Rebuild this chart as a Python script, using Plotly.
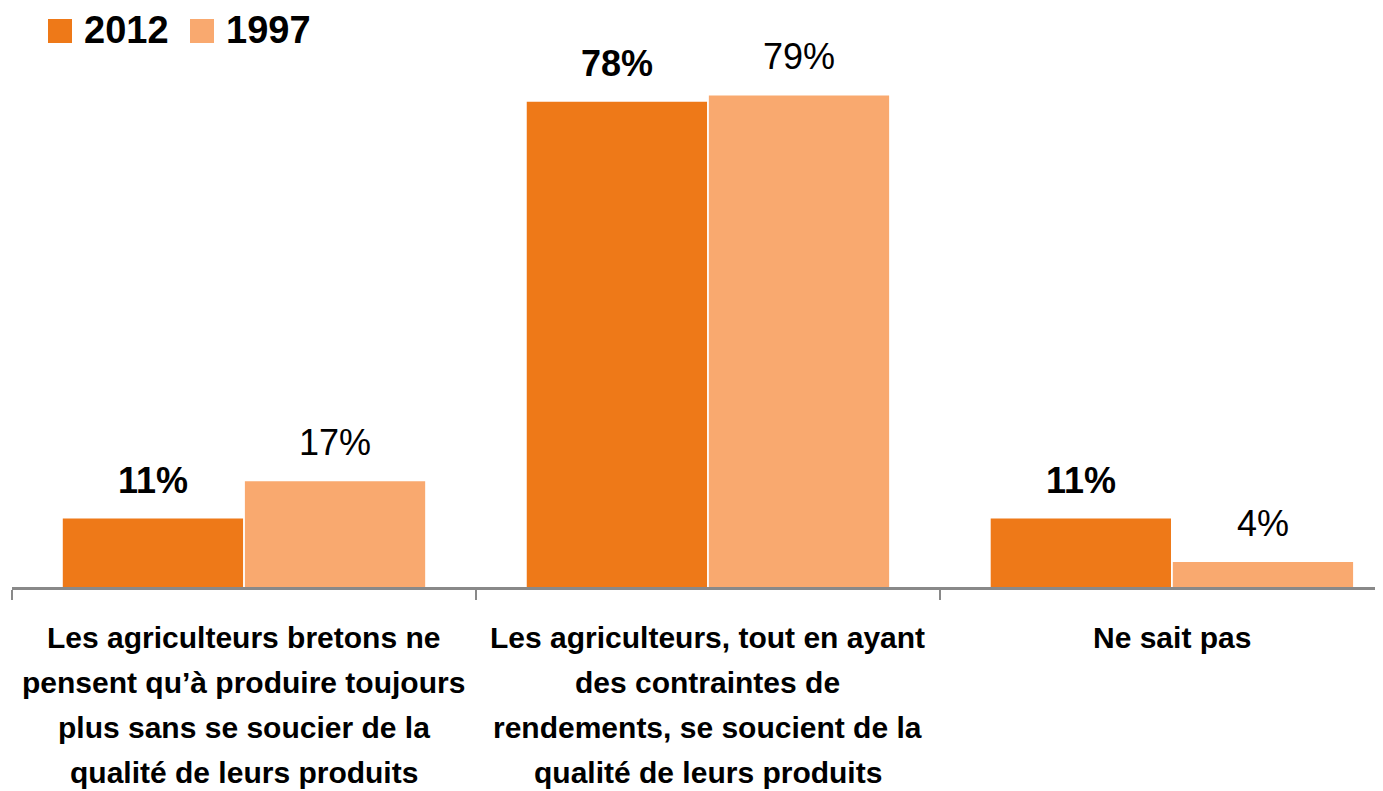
import plotly.graph_objects as go

categories = ["cat1", "cat2", "cat3"]
category_lines = [
    ["Les agriculteurs bretons ne", "pensent qu\u2019\u00e0 produire toujours", "plus sans se soucier de la", "qualit\u00e9 de leurs produits"],
    ["Les agriculteurs, tout en ayant", "des contraintes de", "rendements, se soucient de la", "qualit\u00e9 de leurs produits"],
    ["Ne sait pas"],
]
series_names = ["2012", "1997"]
values_2012 = [11, 78, 11]
values_1997 = [17, 79, 4]
colors = ["#EE7918", "#F9A96F"]

# page body margin offset (px) compensated so the chart lands at window coords
OFF = 8
W, H = 1383 - OFF, 791 - OFF
PLOT_L, PLOT_R, PLOT_T, PLOT_B = 12, 1383, 60, 587   # in window pixels
L, R, T, B = PLOT_L - OFF, (1383 - PLOT_R), PLOT_T - OFF, (791 - PLOT_B)
BARGAP = 0.215
YMAX = 84.7

LAB = "Liberation Sans, Arial, sans-serif"

fig = go.Figure()
for name, vals, col in zip(series_names, [values_2012, values_1997], colors):
    fig.add_trace(go.Bar(x=categories, y=vals, name=name, marker=dict(color=col, line=dict(width=0)),
                         showlegend=False))

# data labels
half = (1 - BARGAP) / 4
for k, (vals, bold) in enumerate([(values_2012, True), (values_1997, False)]):
    off = -half if k == 0 else half
    for i, v in enumerate(vals):
        txt = f"<b>{v}%</b>" if bold else f"{v}%"
        fig.add_annotation(x=i + off, y=v, xref="x", yref="y", text=txt, showarrow=False,
                           yanchor="bottom", yshift=16,
                           font=dict(family=LAB, size=36, color="black"))

# category labels (one annotation per line)
for i, lines in enumerate(category_lines):
    for j, line in enumerate(lines):
        fig.add_annotation(x=i, y=0, xref="x", yref="paper", text=f"<b>{line}</b>", showarrow=False,
                           yanchor="middle", yshift=-(50 + 45 * j),
                           font=dict(family=LAB, size=30, color="black"))

# legend (manual)
plot_w = PLOT_R - PLOT_L
plot_h = PLOT_B - PLOT_T
def px_x(p):
    return (p - PLOT_L) / plot_w
def px_y(p):
    return (PLOT_B - p) / plot_h

leg_x = [48, 190]
for name, col, lx in zip(series_names, colors, leg_x):
    fig.add_shape(type="rect", xref="paper", yref="paper",
                  x0=px_x(lx), x1=px_x(lx + 24), y0=px_y(43), y1=px_y(19),
                  fillcolor=col, line=dict(width=0))
    fig.add_annotation(xref="paper", yref="paper", x=px_x(lx + 34), y=px_y(30), xanchor="left",
                       yanchor="middle", text=f"<b>{name}</b>", showarrow=False,
                       font=dict(family=LAB, size=38, color="black"))

fig.update_layout(
    width=W, height=H,
    margin=dict(l=L, r=R, t=T, b=B, pad=0),
    paper_bgcolor="white", plot_bgcolor="white",
    barmode="group", bargap=BARGAP, bargroupgap=0.01,
    showlegend=False,
    xaxis=dict(range=[-0.5, 2.455], showticklabels=False, ticks="outside", tickson="boundaries",
               ticklen=10, tickwidth=2, tickcolor="#898989", showline=True, linecolor="#898989",
               linewidth=3, showgrid=False, zeroline=False),
    yaxis=dict(range=[0, YMAX], visible=False, showgrid=False, zeroline=False),
)

fig.write_html("out.html")
